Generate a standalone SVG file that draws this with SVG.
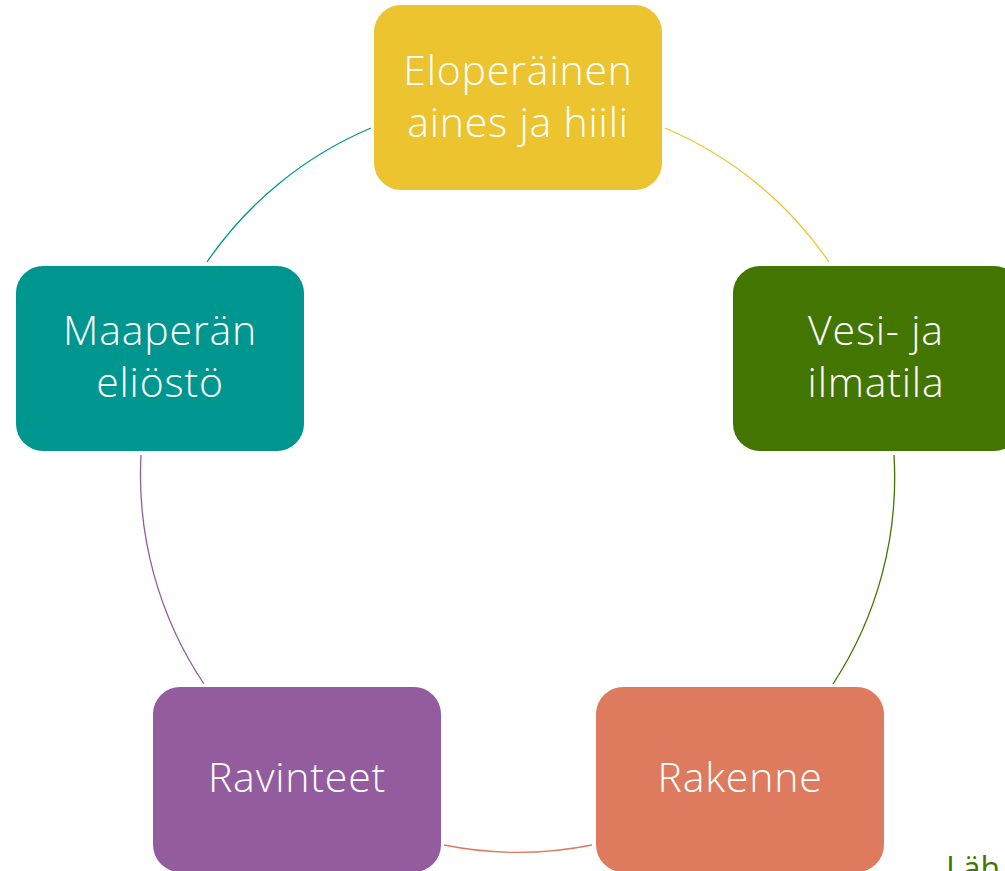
<svg xmlns="http://www.w3.org/2000/svg" width="1005" height="871" viewBox="0 0 1005 871">
<style>
.box{stroke:none}
.lbl{font-family:"Open Sans","Liberation Sans",sans-serif;font-weight:300;font-size:41px;letter-spacing:0.8px;fill:#ffffff;text-anchor:middle}
.arc{fill:none;stroke-width:1.3}
</style>
<rect width="1005" height="871" fill="#ffffff"/>
<g id="connectors">
<path class="arc" stroke="#EBC430" d="M665,128 A376,376 0 0 1 829,262"/>
<path class="arc" stroke="#437600" d="M894,455 A376,376 0 0 1 833,684"/>
<path class="arc" stroke="#DE7A5E" d="M592,845 A376,376 0 0 1 444,845"/>
<path class="arc" stroke="#935C9F" d="M204,684 A376,376 0 0 1 141,455"/>
<path class="arc" stroke="#009690" d="M207,262 A376,376 0 0 1 371,128"/>
</g>
<g id="node-eloperainen">
<rect class="box" x="374" y="5" width="288" height="185" rx="27" fill="#EBC430"/>
<text class="lbl" x="518" y="85">Eloperäinen</text>
<text class="lbl" x="518" y="137">aines ja hiili</text>
</g>
<g id="node-vesi">
<rect class="box" x="733" y="266" width="288" height="185" rx="27" fill="#437600"/>
<text class="lbl" x="876" y="345">Vesi- ja</text>
<text class="lbl" x="876" y="397">ilmatila</text>
</g>
<g id="node-rakenne">
<rect class="box" x="596" y="687" width="288" height="185" rx="27" fill="#DE7A5E"/>
<text class="lbl" x="740" y="792">Rakenne</text>
</g>
<g id="node-ravinteet">
<rect class="box" x="153" y="687" width="288" height="185" rx="27" fill="#935C9F"/>
<text class="lbl" x="297" y="792">Ravinteet</text>
</g>
<g id="node-maaperan">
<rect class="box" x="16" y="266" width="288" height="185" rx="27" fill="#009690"/>
<text class="lbl" x="160" y="345">Maaperän</text>
<text class="lbl" x="160" y="397">eliöstö</text>
</g>
<text x="946" y="880" font-family="Open Sans, Liberation Sans, sans-serif" font-size="32" fill="#437600">Läh</text>
</svg>
